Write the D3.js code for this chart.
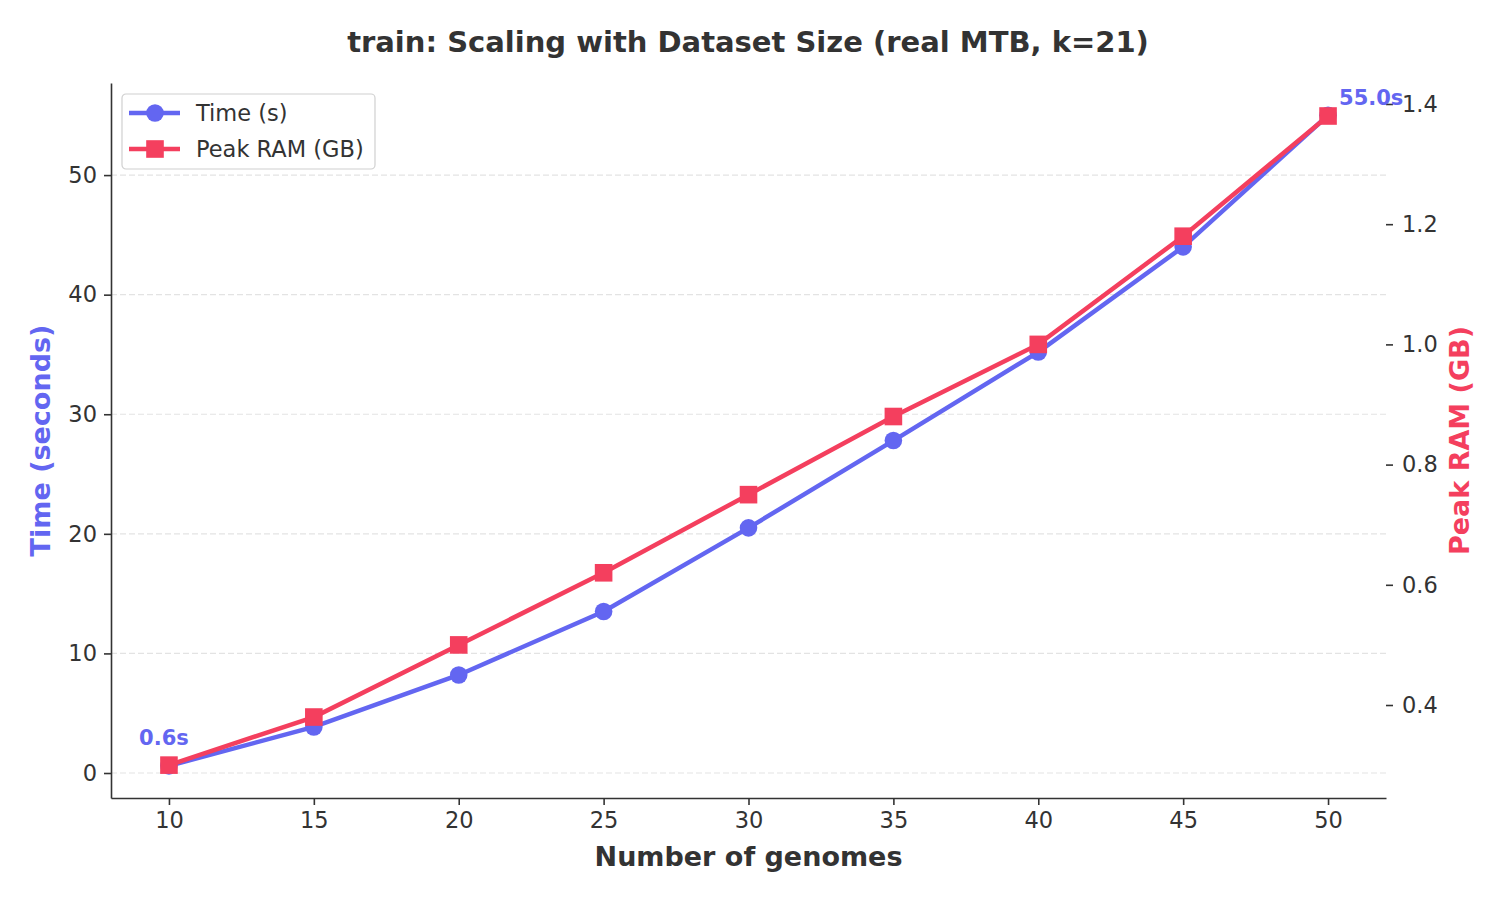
<!DOCTYPE html>
<html>
<head>
<meta charset="utf-8">
<script src="https://cdn.jsdelivr.net/npm/d3@7"></script>
<style>
  body { margin: 0; background: #fff; font-family: "DejaVu Sans", sans-serif; }
  .axis text { font-size: 22.5px; fill: #333; font-family: "DejaVu Sans", sans-serif; }
  .axis path, .axis line { stroke: #333; }
</style>
</head>
<body>
<div id="chart"></div>
<script>
// data
const genomes = [10, 15, 20, 25, 30, 35, 40, 45, 50];
const timeSec = [0.6, 3.85, 8.2, 13.5, 20.5, 27.8, 35.2, 44.0, 55.0];
const ramGB = [0.30, 0.38, 0.50, 0.62, 0.75, 0.88, 1.00, 1.18, 1.38];
const leftTicks = [0, 10, 20, 30, 40, 50];
const rightTicks = [0.4, 0.6, 0.8, 1.0, 1.2, 1.4];

const blue = "#6366f1", red = "#f43f5e", ink = "#333";

const W = 1504, H = 901;
const margin = { top: 83, right: 118, bottom: 103, left: 111 };
const width = W - margin.left - margin.right;
const height = H - margin.top - margin.bottom;

const root = d3.select("#chart").append("svg")
    .attr("width", W).attr("height", H);

const svg = root.append("g")
    .attr("transform", `translate(${margin.left},${margin.top})`);

const x = d3.scaleLinear().domain([8, 52]).range([0, width]);
const yL = d3.scaleLinear().domain([-2.09, 57.7]).range([height, 0]);
const yR = d3.scaleLinear().domain([0.2453, 1.4349]).range([height, 0]);

// grid lines
svg.selectAll(".grid").data(leftTicks).enter().append("line")
    .attr("x1", 0).attr("x2", width)
    .attr("y1", d => yL(d)).attr("y2", d => yL(d))
    .attr("stroke", "#e3e3e3").attr("stroke-dasharray", "6,3").attr("stroke-width", 1.2);

// axes
const xAxis = svg.append("g").attr("class", "axis")
    .attr("transform", `translate(0,${height})`)
    .call(d3.axisBottom(x).tickValues(genomes).tickSizeInner(7).tickSizeOuter(0).tickPadding(7));
xAxis.select(".domain").attr("stroke-width", 1.6);
xAxis.selectAll(".tick line").attr("stroke-width", 1.6);

const leftAxis = svg.append("g").attr("class", "axis")
    .call(d3.axisLeft(yL).tickValues(leftTicks).tickSizeInner(7).tickSizeOuter(0).tickPadding(7));
leftAxis.select(".domain").attr("stroke-width", 1.6);
leftAxis.selectAll(".tick line").attr("stroke-width", 1.6);

const rightAxis = svg.append("g").attr("class", "axis")
    .attr("transform", `translate(${width},0)`)
    .call(d3.axisRight(yR).tickValues(rightTicks).tickFormat(d3.format(".1f")).tickSizeInner(7).tickSizeOuter(0).tickPadding(9));
rightAxis.select(".domain").remove();
rightAxis.selectAll(".tick line").attr("stroke-width", 1.6);

// lines
const timeLine = d3.line().x((d, i) => x(genomes[i])).y(d => yL(d));
const ramLine = d3.line().x((d, i) => x(genomes[i])).y(d => yR(d));

svg.append("path").datum(timeSec)
    .attr("fill", "none").attr("stroke", blue).attr("stroke-width", 4.5)
    .attr("d", timeLine);
svg.selectAll(".tdot").data(timeSec).enter().append("circle")
    .attr("cx", (d, i) => x(genomes[i])).attr("cy", d => yL(d))
    .attr("r", 8.8).attr("fill", blue);

svg.append("path").datum(ramGB)
    .attr("fill", "none").attr("stroke", red).attr("stroke-width", 4.5)
    .attr("d", ramLine);
svg.selectAll(".rsq").data(ramGB).enter().append("rect")
    .attr("x", (d, i) => x(genomes[i]) - 8.8).attr("y", d => yR(d) - 8.8)
    .attr("width", 17.6).attr("height", 17.6).attr("fill", red);

// value annotations
svg.append("text")
    .attr("x", x(genomes[0]) - 5).attr("y", yL(timeSec[0]) - 21)
    .attr("text-anchor", "middle").attr("fill", blue)
    .style("font-size", "21px").style("font-weight", "bold")
    .text(`${timeSec[0].toFixed(1)}s`);
svg.append("text")
    .attr("x", x(genomes[8]) + 11).attr("y", yL(timeSec[8]) - 10)
    .attr("text-anchor", "start").attr("fill", blue)
    .style("font-size", "21px").style("font-weight", "bold")
    .text(`${timeSec[8].toFixed(1)}s`);

// legend
const lg = svg.append("g").attr("transform", "translate(11,11)");
lg.append("rect").attr("width", 253).attr("height", 75).attr("rx", 4)
    .attr("fill", "#fff").attr("stroke", "#d0d0d0").attr("stroke-width", 1.2);
const items = [
    { label: "Time (s)", color: blue, shape: "circle" },
    { label: "Peak RAM (GB)", color: red, shape: "square" }
];
items.forEach((it, i) => {
    const cy = 19 + i * 36;
    lg.append("line").attr("x1", 7).attr("x2", 58).attr("y1", cy).attr("y2", cy)
        .attr("stroke", it.color).attr("stroke-width", 4.5);
    if (it.shape === "circle") {
        lg.append("circle").attr("cx", 33).attr("cy", cy).attr("r", 8.8).attr("fill", it.color);
    } else {
        lg.append("rect").attr("x", 24.2).attr("y", cy - 8.8).attr("width", 17.6).attr("height", 17.6).attr("fill", it.color);
    }
    lg.append("text").attr("x", 74).attr("y", cy + 8)
        .attr("fill", ink).style("font-size", "22.5px").text(it.label);
});

// titles
root.append("text").attr("x", W / 2 - 4).attr("y", 52)
    .attr("text-anchor", "middle").attr("fill", ink)
    .style("font-size", "29px").style("font-weight", "bold")
    .text("train: Scaling with Dataset Size (real MTB, k=21)");

root.append("text").attr("x", margin.left + x(30)).attr("y", 866)
    .attr("text-anchor", "middle").attr("fill", ink)
    .style("font-size", "27px").style("font-weight", "bold")
    .text("Number of genomes");

root.append("text")
    .attr("transform", `translate(50,${margin.top + height / 2}) rotate(-90)`)
    .attr("text-anchor", "middle").attr("fill", blue)
    .style("font-size", "27px").style("font-weight", "bold")
    .text("Time (seconds)");

root.append("text")
    .attr("transform", `translate(1469,${margin.top + height / 2}) rotate(-90)`)
    .attr("text-anchor", "middle").attr("fill", red)
    .style("font-size", "27px").style("font-weight", "bold")
    .text("Peak RAM (GB)");
</script>
</body>
</html>
